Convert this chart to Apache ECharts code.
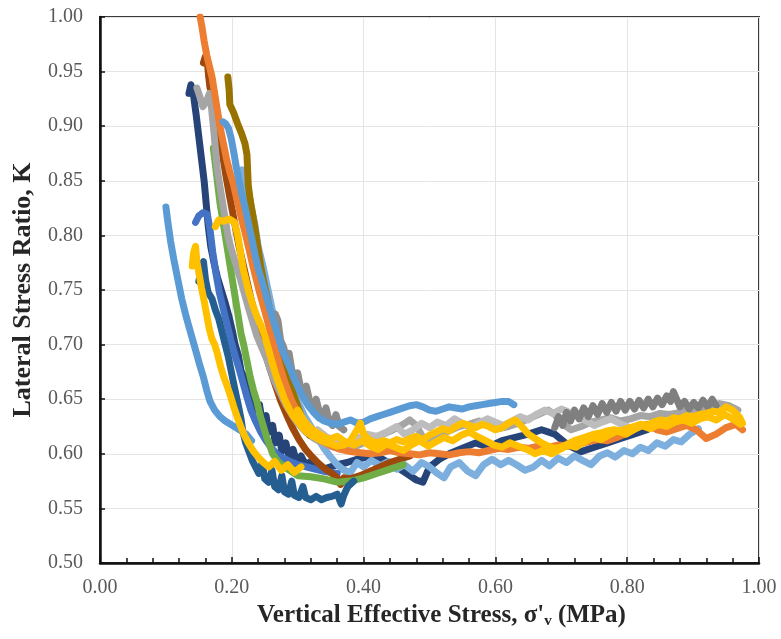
<!DOCTYPE html>
<html>
<head>
<meta charset="utf-8">
<script src="https://cdn.jsdelivr.net/npm/echarts@6/dist/echarts.min.js"></script>
<style>html,body{margin:0;padding:0;background:#fff}#c{width:781px;height:639px}</style>
</head>
<body>
<div id="c"></div>
<script>
// ---- tick labels ----
var xTicks = [0.00, 0.20, 0.40, 0.60, 0.80, 1.00];
var yTicks = [0.50, 0.55, 0.60, 0.65, 0.70, 0.75, 0.80, 0.85, 0.90, 0.95, 1.00];

// ---- series values: [vertical effective stress (MPa), K] ----
var navy = [[0.135,0.930],[0.138,0.938],[0.142,0.928],[0.146,0.910],[0.150,0.890],[0.154,0.870],[0.158,0.850],[0.161,0.830],[0.164,0.810],[0.168,0.790],[0.173,0.775],[0.178,0.762],[0.184,0.750],[0.190,0.738],[0.196,0.725],[0.201,0.712],[0.205,0.700],[0.210,0.690],[0.214,0.676],[0.220,0.668],[0.225,0.656],[0.231,0.650],[0.236,0.640],[0.242,0.645],[0.246,0.630],[0.252,0.635],[0.256,0.620],[0.262,0.626],[0.266,0.610],[0.272,0.617],[0.276,0.602],[0.282,0.610],[0.287,0.597],[0.293,0.604],[0.298,0.593],[0.305,0.598],[0.312,0.590],[0.320,0.593],[0.330,0.588],[0.340,0.586],[0.350,0.588],[0.360,0.590],[0.375,0.592],[0.390,0.595],[0.405,0.597],[0.420,0.598],[0.435,0.593],[0.450,0.588],[0.465,0.582],[0.480,0.576],[0.490,0.574],[0.500,0.588],[0.515,0.595],[0.530,0.600],[0.550,0.605],[0.570,0.610],[0.590,0.606],[0.610,0.612],[0.630,0.615],[0.650,0.618],[0.670,0.622],[0.690,0.618],[0.710,0.608],[0.730,0.602],[0.750,0.606],[0.770,0.610],[0.790,0.614],[0.810,0.618],[0.830,0.622]];
var lightBlueC = [[0.215,0.860],[0.220,0.850],[0.228,0.830],[0.235,0.810],[0.240,0.790],[0.248,0.770],[0.255,0.750],[0.262,0.730],[0.270,0.710],[0.278,0.690],[0.285,0.675],[0.293,0.660],[0.300,0.648],[0.310,0.635],[0.320,0.625],[0.330,0.615],[0.340,0.605],[0.350,0.597],[0.360,0.590],[0.370,0.585],[0.380,0.583],[0.390,0.592],[0.400,0.588],[0.412,0.594],[0.425,0.589],[0.438,0.593],[0.450,0.586],[0.462,0.590],[0.475,0.584],[0.488,0.592],[0.500,0.588],[0.512,0.582],[0.522,0.578],[0.532,0.588],[0.545,0.592],[0.558,0.584],[0.570,0.580],[0.582,0.590],[0.595,0.595],[0.608,0.590],[0.620,0.594],[0.632,0.590],[0.645,0.585],[0.658,0.588],[0.670,0.594],[0.682,0.589],[0.695,0.596],[0.708,0.592],[0.720,0.598],[0.732,0.594],[0.745,0.590],[0.758,0.598],[0.770,0.601],[0.782,0.597],[0.795,0.603],[0.808,0.600],[0.820,0.606],[0.832,0.603],[0.845,0.610],[0.858,0.607],[0.870,0.613],[0.882,0.611],[0.895,0.618],[0.908,0.623]];
var blue = [[0.145,0.812],[0.150,0.818],[0.157,0.821],[0.163,0.819],[0.167,0.805],[0.171,0.785],[0.176,0.765],[0.181,0.748],[0.187,0.733],[0.193,0.718],[0.199,0.703],[0.205,0.690],[0.211,0.678],[0.217,0.665],[0.223,0.652],[0.229,0.640],[0.236,0.630],[0.244,0.620],[0.252,0.612],[0.262,0.604],[0.272,0.598],[0.285,0.594],[0.300,0.590],[0.320,0.587],[0.340,0.584],[0.360,0.582]];
var brown = [[0.157,0.958],[0.160,0.964],[0.163,0.958],[0.165,0.945],[0.167,0.935],[0.171,0.928],[0.175,0.915],[0.179,0.900],[0.183,0.885],[0.187,0.870],[0.191,0.855],[0.196,0.838],[0.201,0.822],[0.206,0.806],[0.211,0.790],[0.217,0.774],[0.223,0.758],[0.229,0.742],[0.236,0.726],[0.243,0.710],[0.250,0.694],[0.258,0.678],[0.266,0.663],[0.274,0.649],[0.283,0.636],[0.292,0.624],[0.302,0.613],[0.312,0.604],[0.322,0.597],[0.332,0.591],[0.342,0.586],[0.352,0.582],[0.360,0.578],[0.365,0.572],[0.370,0.578],[0.380,0.577],[0.395,0.580],[0.410,0.584],[0.425,0.588],[0.440,0.592],[0.455,0.595],[0.470,0.598]];
var green = [[0.172,0.880],[0.175,0.865],[0.178,0.850],[0.182,0.830],[0.186,0.815],[0.190,0.800],[0.194,0.785],[0.198,0.770],[0.202,0.755],[0.206,0.740],[0.210,0.725],[0.214,0.710],[0.218,0.700],[0.223,0.685],[0.228,0.670],[0.233,0.658],[0.238,0.648],[0.243,0.635],[0.248,0.625],[0.253,0.615],[0.258,0.607],[0.262,0.600],[0.270,0.593],[0.280,0.588],[0.290,0.584],[0.300,0.580],[0.320,0.579],[0.340,0.577],[0.360,0.574],[0.380,0.575],[0.400,0.578],[0.420,0.582],[0.440,0.586],[0.460,0.590]];
var darkBlue = [[0.150,0.758],[0.153,0.768],[0.157,0.776],[0.160,0.760],[0.164,0.748],[0.170,0.742],[0.175,0.732],[0.180,0.724],[0.185,0.712],[0.190,0.700],[0.195,0.688],[0.200,0.673],[0.205,0.658],[0.210,0.644],[0.214,0.632],[0.217,0.620],[0.221,0.610],[0.226,0.602],[0.231,0.594],[0.236,0.588],[0.241,0.582],[0.246,0.592],[0.250,0.577],[0.256,0.574],[0.261,0.585],[0.265,0.570],[0.271,0.567],[0.276,0.580],[0.280,0.565],[0.286,0.563],[0.291,0.575],[0.295,0.562],[0.302,0.560],[0.308,0.570],[0.312,0.560],[0.320,0.558],[0.328,0.561],[0.336,0.558],[0.344,0.560],[0.352,0.561],[0.360,0.563],[0.366,0.554],[0.370,0.562],[0.376,0.570],[0.385,0.575]];
var gray = [[0.147,0.935],[0.151,0.928],[0.156,0.918],[0.161,0.922],[0.166,0.930],[0.169,0.918],[0.172,0.900],[0.175,0.880],[0.178,0.860],[0.182,0.845],[0.186,0.830],[0.190,0.815],[0.194,0.800],[0.198,0.790],[0.203,0.780],[0.208,0.770],[0.214,0.758],[0.220,0.745],[0.226,0.732],[0.232,0.720],[0.238,0.708],[0.245,0.698],[0.252,0.688],[0.259,0.676],[0.266,0.665],[0.274,0.655],[0.282,0.645],[0.291,0.636],[0.300,0.628],[0.312,0.620],[0.325,0.614],[0.340,0.609],[0.355,0.606],[0.370,0.604],[0.385,0.606],[0.400,0.610],[0.415,0.614],[0.430,0.618],[0.445,0.622],[0.460,0.627],[0.470,0.631],[0.480,0.626],[0.490,0.615],[0.500,0.612],[0.515,0.617],[0.530,0.621],[0.545,0.625],[0.560,0.627],[0.575,0.630],[0.590,0.626],[0.605,0.623],[0.620,0.625],[0.635,0.628],[0.650,0.632],[0.665,0.636],[0.680,0.640],[0.690,0.636],[0.700,0.628],[0.715,0.622],[0.730,0.625],[0.745,0.629],[0.760,0.631],[0.775,0.633],[0.790,0.630],[0.805,0.632],[0.820,0.635],[0.835,0.634],[0.850,0.637],[0.865,0.636],[0.880,0.638],[0.895,0.640],[0.910,0.641],[0.925,0.643],[0.940,0.646],[0.955,0.644],[0.968,0.640]];
var lightGray = [[0.330,0.622],[0.345,0.615],[0.360,0.612],[0.375,0.610],[0.390,0.614],[0.405,0.618],[0.420,0.616],[0.435,0.620],[0.450,0.625],[0.462,0.618],[0.475,0.622],[0.488,0.628],[0.500,0.624],[0.512,0.629],[0.525,0.626],[0.538,0.632],[0.550,0.628],[0.562,0.624],[0.575,0.628],[0.588,0.632],[0.600,0.629],[0.612,0.626],[0.625,0.630],[0.638,0.634],[0.650,0.631],[0.662,0.636],[0.675,0.640],[0.688,0.637],[0.700,0.641],[0.712,0.638],[0.725,0.634],[0.738,0.630],[0.750,0.626],[0.762,0.629],[0.775,0.632],[0.788,0.628],[0.800,0.625]];
var midGray = [[0.262,0.712],[0.266,0.728],[0.270,0.722],[0.274,0.704],[0.279,0.697],[0.283,0.686],[0.287,0.692],[0.291,0.677],[0.296,0.670],[0.300,0.674],[0.304,0.662],[0.309,0.656],[0.313,0.662],[0.318,0.649],[0.323,0.643],[0.328,0.650],[0.333,0.638],[0.338,0.633],[0.343,0.642],[0.348,0.629],[0.353,0.626],[0.358,0.636],[0.363,0.625],[0.370,0.622]];
var darkGray = [[0.690,0.624],[0.696,0.634],[0.702,0.626],[0.708,0.638],[0.714,0.630],[0.720,0.640],[0.727,0.632],[0.734,0.642],[0.741,0.634],[0.748,0.644],[0.755,0.636],[0.762,0.646],[0.769,0.638],[0.776,0.647],[0.783,0.639],[0.790,0.648],[0.797,0.640],[0.804,0.648],[0.811,0.641],[0.818,0.649],[0.825,0.642],[0.832,0.650],[0.839,0.643],[0.846,0.651],[0.853,0.645],[0.860,0.653],[0.866,0.648],[0.870,0.657],[0.875,0.650],[0.880,0.643],[0.887,0.648],[0.894,0.641],[0.901,0.647],[0.908,0.642],[0.915,0.649],[0.922,0.643],[0.929,0.650],[0.935,0.644]];
var olive = [[0.194,0.945],[0.196,0.933],[0.197,0.920],[0.203,0.912],[0.209,0.902],[0.215,0.893],[0.220,0.884],[0.223,0.874],[0.224,0.860],[0.225,0.846],[0.228,0.832],[0.232,0.818],[0.236,0.803],[0.240,0.787],[0.244,0.771],[0.249,0.756],[0.254,0.742],[0.259,0.728],[0.264,0.714],[0.269,0.700],[0.275,0.688],[0.281,0.676],[0.288,0.664],[0.295,0.652],[0.302,0.640],[0.310,0.628],[0.318,0.617]];
var lightBlueA = [[0.100,0.826],[0.103,0.812],[0.107,0.795],[0.112,0.778],[0.118,0.760],[0.124,0.742],[0.131,0.725],[0.138,0.710],[0.145,0.695],[0.151,0.682],[0.157,0.670],[0.162,0.658],[0.167,0.648],[0.174,0.640],[0.182,0.634],[0.190,0.630],[0.198,0.627],[0.206,0.624],[0.214,0.621],[0.222,0.618],[0.230,0.612]];
var orange = [[0.152,1.000],[0.155,0.990],[0.158,0.978],[0.162,0.965],[0.166,0.955],[0.170,0.945],[0.174,0.930],[0.178,0.915],[0.182,0.900],[0.187,0.885],[0.192,0.870],[0.197,0.858],[0.202,0.848],[0.207,0.835],[0.212,0.822],[0.217,0.810],[0.222,0.798],[0.227,0.785],[0.232,0.772],[0.237,0.760],[0.242,0.748],[0.248,0.735],[0.254,0.722],[0.260,0.708],[0.266,0.695],[0.272,0.682],[0.278,0.670],[0.285,0.658],[0.292,0.647],[0.300,0.638],[0.308,0.630],[0.318,0.622],[0.328,0.616],[0.340,0.611],[0.352,0.607],[0.365,0.604],[0.380,0.602],[0.395,0.601],[0.410,0.600],[0.425,0.601],[0.440,0.603],[0.455,0.601],[0.470,0.600],[0.485,0.599],[0.500,0.601],[0.515,0.600],[0.530,0.599],[0.545,0.601],[0.560,0.602],[0.575,0.601],[0.590,0.603],[0.605,0.605],[0.620,0.604],[0.635,0.606],[0.650,0.605],[0.665,0.607],[0.680,0.606],[0.695,0.608],[0.710,0.607],[0.725,0.609],[0.740,0.611],[0.755,0.613],[0.770,0.612],[0.785,0.615],[0.800,0.619],[0.815,0.624],[0.830,0.627],[0.845,0.622],[0.860,0.620],[0.875,0.623],[0.890,0.626],[0.905,0.622],[0.920,0.614],[0.935,0.618],[0.950,0.624],[0.965,0.627],[0.975,0.622]];
var lightBlueB = [[0.187,0.904],[0.191,0.902],[0.195,0.898],[0.199,0.889],[0.203,0.876],[0.207,0.862],[0.211,0.850],[0.215,0.838],[0.220,0.826],[0.225,0.812],[0.230,0.798],[0.235,0.783],[0.240,0.770],[0.246,0.758],[0.252,0.745],[0.258,0.732],[0.264,0.720],[0.270,0.708],[0.276,0.696],[0.282,0.687],[0.288,0.679],[0.295,0.668],[0.302,0.659],[0.309,0.651],[0.316,0.644],[0.324,0.638],[0.332,0.633],[0.340,0.630],[0.350,0.628],[0.360,0.627],[0.370,0.629],[0.380,0.631],[0.390,0.628],[0.400,0.629],[0.410,0.632],[0.420,0.634],[0.430,0.636],[0.440,0.638],[0.450,0.640],[0.460,0.642],[0.470,0.644],[0.480,0.645],[0.490,0.643],[0.500,0.640],[0.510,0.639],[0.520,0.641],[0.530,0.643],[0.540,0.642],[0.550,0.641],[0.560,0.643],[0.570,0.644],[0.580,0.645],[0.590,0.646],[0.600,0.647],[0.610,0.648],[0.620,0.648],[0.628,0.645]];
var goldA = [[0.140,0.772],[0.142,0.784],[0.145,0.790],[0.147,0.776],[0.150,0.766],[0.154,0.752],[0.158,0.740],[0.162,0.727],[0.166,0.714],[0.170,0.705],[0.174,0.700],[0.178,0.692],[0.183,0.680],[0.188,0.670],[0.193,0.662],[0.198,0.653],[0.203,0.643],[0.208,0.634],[0.213,0.626],[0.219,0.617],[0.225,0.610],[0.232,0.603],[0.240,0.597],[0.248,0.592],[0.256,0.588],[0.265,0.593],[0.275,0.585],[0.285,0.590],[0.295,0.583],[0.305,0.588]];
var goldC = [[0.300,0.640],[0.310,0.630],[0.322,0.622],[0.335,0.617],[0.348,0.613],[0.360,0.616],[0.372,0.611],[0.385,0.608],[0.398,0.612],[0.410,0.607],[0.422,0.604],[0.435,0.609],[0.448,0.606],[0.460,0.603],[0.472,0.608],[0.485,0.612],[0.498,0.607],[0.510,0.611],[0.522,0.615],[0.535,0.612],[0.548,0.617],[0.560,0.620],[0.572,0.616],[0.585,0.612],[0.598,0.608],[0.610,0.606],[0.622,0.610],[0.635,0.607],[0.648,0.604],[0.660,0.600],[0.672,0.603],[0.685,0.600],[0.698,0.604],[0.710,0.608],[0.722,0.606],[0.735,0.611],[0.748,0.615],[0.760,0.613],[0.772,0.617],[0.785,0.621],[0.798,0.618],[0.810,0.622],[0.822,0.626],[0.835,0.623],[0.848,0.627],[0.860,0.625],[0.872,0.629],[0.885,0.631],[0.898,0.628],[0.910,0.632],[0.922,0.634],[0.935,0.631],[0.948,0.636],[0.960,0.632],[0.972,0.627]];
var goldB = [[0.175,0.808],[0.180,0.814],[0.188,0.813],[0.196,0.815],[0.204,0.812],[0.209,0.800],[0.213,0.785],[0.217,0.770],[0.221,0.760],[0.226,0.748],[0.232,0.736],[0.238,0.726],[0.244,0.718],[0.250,0.708],[0.256,0.695],[0.262,0.682],[0.268,0.670],[0.274,0.660],[0.280,0.650],[0.287,0.641],[0.294,0.634],[0.302,0.628],[0.310,0.622],[0.320,0.617],[0.330,0.614],[0.340,0.611],[0.350,0.609],[0.360,0.607],[0.370,0.608],[0.380,0.612],[0.390,0.622],[0.395,0.628],[0.400,0.618],[0.410,0.612],[0.420,0.610],[0.430,0.612],[0.440,0.610],[0.450,0.613],[0.460,0.611],[0.470,0.614],[0.480,0.616],[0.490,0.613],[0.500,0.617],[0.510,0.620],[0.520,0.623],[0.530,0.621],[0.540,0.625],[0.550,0.628],[0.560,0.626],[0.570,0.624],[0.580,0.627],[0.590,0.625],[0.600,0.622],[0.610,0.624],[0.620,0.628],[0.630,0.631],[0.640,0.625],[0.650,0.618],[0.660,0.614],[0.670,0.610],[0.680,0.607],[0.690,0.605],[0.700,0.606],[0.710,0.609],[0.720,0.612],[0.730,0.614],[0.740,0.616],[0.750,0.618],[0.760,0.619],[0.770,0.621],[0.780,0.622],[0.790,0.621],[0.800,0.623],[0.810,0.625],[0.820,0.627],[0.830,0.626],[0.840,0.629],[0.850,0.631],[0.860,0.630],[0.870,0.633],[0.880,0.632],[0.890,0.635],[0.900,0.634],[0.910,0.636],[0.920,0.637],[0.930,0.639],[0.940,0.638],[0.950,0.643],[0.960,0.640],[0.970,0.634],[0.975,0.628]];

var seriesList = [
  ['navy', navy, '#264478'],
  ['lightBlueC', lightBlueC, '#7CAFDD'],
  ['blue', blue, '#4472C4'],
  ['brown', brown, '#9E480E'],
  ['green', green, '#70AD47'],
  ['darkBlue', darkBlue, '#255E91'],
  ['gray', gray, '#A5A5A5'],
  ['lightGray', lightGray, '#BDBDBD'],
  ['midGray', midGray, '#8C8C8C'],
  ['darkGray', darkGray, '#7F7F7F'],
  ['olive', olive, '#997300'],
  ['lightBlueA', lightBlueA, '#5B9BD5'],
  ['orange', orange, '#ED7D31'],
  ['lightBlueB', lightBlueB, '#5B9BD5'],
  ['goldA', goldA, '#FFC000'],
  ['goldC', goldC, '#FFC000'],
  ['goldB', goldB, '#FFC000']
];

var FONT = "'Liberation Serif','Times New Roman',serif";
var chart = echarts.init(document.getElementById('c'), null, {renderer: 'canvas'});
chart.setOption({
  animation: false,
  backgroundColor: '#ffffff',
  grid: {left: 100, right: 22, top: 17, bottom: 76, show: true, borderColor: '#3a3a3a', borderWidth: 2, backgroundColor: 'transparent'},
  xAxis: {
    type: 'value', min: xTicks[0], max: xTicks[xTicks.length - 1], interval: 0.2,
    name: "Vertical Effective Stress, σ'{sub|v} (MPa)",
    nameLocation: 'middle', nameGap: 36,
    nameTextStyle: {fontFamily: FONT, fontSize: 25, fontWeight: 'bold', color: '#262626', padding: [0, 0, 0, 24],
      rich: {sub: {fontFamily: FONT, fontSize: 15, fontWeight: 'bold', color: '#262626', padding: [12, 0, 0, 0]}}},
    axisLine: {show: true, onZero: false, lineStyle: {color: '#111', width: 2.5}},
    axisTick: {show: true, inside: true, length: 6, lineStyle: {color: '#111', width: 1.5}},
    minorTick: {show: true, splitNumber: 5, length: 5, lineStyle: {color: '#111', width: 1.5}},
    splitLine: {show: true, lineStyle: {color: '#E4E4E4', width: 1}},
    axisLabel: {fontFamily: FONT, fontSize: 20, color: '#595959', margin: 15,
      formatter: function (v) { return v.toFixed(2); }}
  },
  yAxis: {
    type: 'value', min: yTicks[0], max: yTicks[yTicks.length - 1], interval: 0.05,
    name: 'Lateral Stress Ratio, K',
    nameLocation: 'middle', nameGap: 64,
    nameTextStyle: {fontFamily: FONT, fontSize: 26, fontWeight: 'bold', color: '#262626'},
    axisLine: {show: true, onZero: false, lineStyle: {color: '#111', width: 2.5}},
    axisTick: {show: true, inside: true, length: 5, lineStyle: {color: '#111', width: 1.5}},
    splitLine: {show: true, lineStyle: {color: '#E4E4E4', width: 1}},
    axisLabel: {fontFamily: FONT, fontSize: 20, color: '#595959', margin: 17,
      formatter: function (v) { return v.toFixed(2); }}
  },
  series: seriesList.map(function (s) {
    return {
      name: s[0], type: 'line', data: s[1], showSymbol: false, symbol: 'none', smooth: false,
      clip: true,
      lineStyle: {color: s[2], width: 7, cap: 'round', join: 'round'},
      emphasis: {disabled: true}
    };
  })
});
</script>
</body>
</html>
